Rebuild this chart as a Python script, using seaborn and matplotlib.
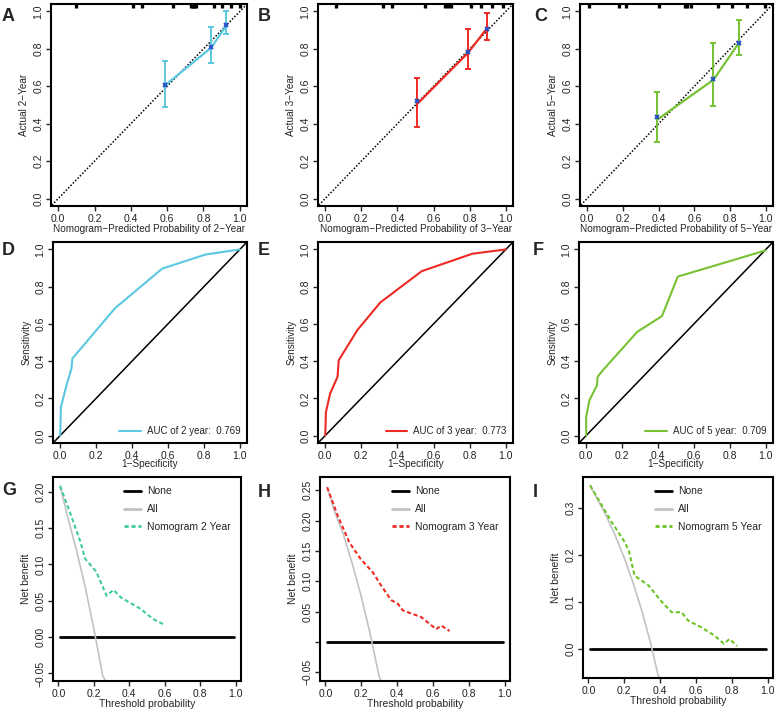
import matplotlib
matplotlib.use('Agg')
import matplotlib.pyplot as plt
from matplotlib.lines import Line2D
import seaborn as sns
import pandas as pd

# calibration curves (A-C)
cal_labels = ["2", "3", "5"]
cal_colors = ["#5BC8E0", "#EE2A24", "#76C232"]
cal_pred = [[0.586, 0.842, 0.927], [0.511, 0.792, 0.895], [0.393, 0.707, 0.850]]
cal_obs = [[0.603, 0.806, 0.926], [0.507, 0.780, 0.909], [0.422, 0.635, 0.833]]
cal_corr = [[0.607, 0.809, 0.928], [0.520, 0.783, 0.906], [0.434, 0.637, 0.833]]
cal_lo = [[0.487, 0.723, 0.882], [0.380, 0.694, 0.849], [0.300, 0.492, 0.767]]
cal_hi = [[0.735, 0.919, 1.000], [0.645, 0.906, 0.991], [0.569, 0.829, 0.955]]
rug_2y = [0.10, 0.41, 0.46, 0.63, 0.73, 0.74, 0.75, 0.76, 0.86, 0.90, 0.95, 1.0]
rug_3y = [0.06, 0.32, 0.37, 0.55, 0.665, 0.68, 0.695, 0.81, 0.865, 0.925, 0.985]
rug_5y = [0.01, 0.18, 0.22, 0.40, 0.545, 0.56, 0.58, 0.735, 0.81, 0.895, 0.995]
cal_rugs = [rug_2y, rug_3y, rug_5y]

# ROC curves (D-F)
roc_fpr_2y = [0, 0.004, 0.035, 0.063, 0.068, 0.306, 0.568, 0.81, 1]
roc_tpr_2y = [0, 0.153, 0.27, 0.36, 0.414, 0.685, 0.897, 0.973, 1]
roc_fpr_3y = [0, 0.004, 0.027, 0.068, 0.075, 0.179, 0.305, 0.534, 0.815, 1]
roc_tpr_3y = [0, 0.126, 0.225, 0.315, 0.405, 0.568, 0.715, 0.883, 0.977, 1]
roc_fpr_5y = [0, 0, 0.018, 0.06, 0.064, 0.092, 0.284, 0.422, 0.51, 1]
roc_tpr_5y = [0, 0.10, 0.19, 0.27, 0.316, 0.35, 0.557, 0.642, 0.854, 0.995]
roc_auc = ["0.769", "0.773", "0.709"]

# decision curves (G-I)
dca_all_x_2y = [0.01, 0.05, 0.10, 0.15, 0.20, 0.25, 0.27]
dca_all_y_2y = [0.208, 0.168, 0.122, 0.071, 0.012, -0.053, -0.062]
dca_nom_x_2y = [0.01, 0.071, 0.125, 0.151, 0.214, 0.272, 0.311, 0.356, 0.463, 0.534, 0.59]
dca_nom_y_2y = [0.208, 0.168, 0.131, 0.108, 0.09, 0.057, 0.065, 0.054, 0.039, 0.025, 0.018]
dca_all_x_3y = [0.01, 0.05, 0.10, 0.15, 0.20, 0.25, 0.30, 0.31]
dca_all_y_3y = [0.255, 0.216, 0.178, 0.129, 0.075, 0.013, -0.057, -0.064]
dca_nom_x_3y = [0.01, 0.069, 0.134, 0.196, 0.264, 0.311, 0.367, 0.404, 0.432, 0.534, 0.618, 0.646, 0.693]
dca_nom_y_3y = [0.255, 0.208, 0.164, 0.137, 0.115, 0.093, 0.069, 0.063, 0.052, 0.041, 0.021, 0.027, 0.018]
dca_all_x_5y = [0.01, 0.10, 0.15, 0.20, 0.25, 0.30, 0.35, 0.40]
dca_all_y_5y = [0.348, 0.283, 0.241, 0.194, 0.14, 0.079, 0.008, -0.075]
dca_nom_x_5y = [0.01, 0.13, 0.197, 0.225, 0.258, 0.336, 0.41, 0.465, 0.52, 0.557, 0.63, 0.705, 0.756, 0.788, 0.83]
dca_nom_y_5y = [0.348, 0.27, 0.231, 0.21, 0.156, 0.135, 0.10, 0.078, 0.078, 0.06, 0.046, 0.028, 0.011, 0.021, 0.006]
dca_colors = ["#3FCB9E", "#EE2A24", "#6CC427"]

sns.set_style("white")
plt.rcParams['font.family'] = ['Liberation Sans', 'DejaVu Sans']
plt.rcParams['axes.linewidth'] = 1.5

W, H = 777, 717
fig = plt.figure(figsize=(W / 100, H / 100), dpi=100)


def box(l, t, r, b):
    return fig.add_axes([l / W, 1 - b / H, (r - l) / W, (b - t) / H])


def style(ax, xticks, yticks, ylabels=None):
    ax.set_xticks(xticks)
    ax.set_yticks(yticks)
    if ylabels is not None:
        ax.set_yticklabels(ylabels)
    ax.tick_params(direction='out', length=3.5, width=1, labelsize=7.5,
                   labelcolor='#222222', pad=2, bottom=True, left=True)
    ax.tick_params(axis='y', labelrotation=90)
    for lab in ax.get_yticklabels():
        lab.set_va('center')
    for s in ax.spines.values():
        s.set_color('black')


ticks01 = [0, 0.2, 0.4, 0.6, 0.8, 1.0]
tick_txt = ["0.0", "0.2", "0.4", "0.6", "0.8", "1.0"]

row1 = [(51, 4, 247, 206), (318, 4, 513, 206), (580, 4, 773, 206)]
row2 = [(53, 242, 247, 443), (318, 242, 513, 443), (579, 242, 773, 443)]
row3 = [(53, 477, 241, 681), (320, 477, 510, 681), (583, 477, 773, 678)]

# --- calibration
for i in range(3):
    ax = box(*row1[i])
    c = cal_colors[i]
    ax.plot([-0.1, 1.1], [-0.1, 1.1], ls=(0, (1, 1.2)), color='black', lw=1.1)
    ax.errorbar(cal_pred[i], cal_obs[i],
                yerr=[[o - l for o, l in zip(cal_obs[i], cal_lo[i])],
                      [h - o for o, h in zip(cal_obs[i], cal_hi[i])]],
                fmt='none', ecolor=c, elinewidth=1.4, capsize=2.5, capthick=1.4)
    sns.lineplot(x=cal_pred[i], y=cal_obs[i], ax=ax, color=c, lw=1.6,
                 sort=False, estimator=None)
    ax.plot(cal_pred[i], cal_corr[i], 'x', color='#2A52C8', ms=3.3, mew=1.4)
    ax.vlines(cal_rugs[i], 1.016, 1.042, color='black', lw=2.4)
    ax.set_xlim(-0.04, 1.04)
    ax.set_ylim(-0.04, 1.04)
    style(ax, ticks01, ticks01)
    ax.set_xticklabels(tick_txt)
    ax.set_yticklabels(tick_txt)
    ax.set_xlabel("Nomogram\u2212Predicted Probability of %s\u2212Year" % cal_labels[i],
                  fontsize=7.2, labelpad=0)
    ax.set_ylabel("Actual %s\u2212Year" % cal_labels[i], fontsize=7.2, labelpad=3)

# --- ROC
roc_fpr = [roc_fpr_2y, roc_fpr_3y, roc_fpr_5y]
roc_tpr = [roc_tpr_2y, roc_tpr_3y, roc_tpr_5y]
for i in range(3):
    ax = box(*row2[i])
    c = cal_colors[i]
    ax.plot([-0.1, 1.1], [-0.1, 1.1], color='black', lw=1.1)
    roc_df = pd.DataFrame({'fpr': roc_fpr[i], 'tpr': roc_tpr[i]})
    sns.lineplot(data=roc_df, x='fpr', y='tpr', ax=ax, color=c, lw=1.5,
                 sort=False, estimator=None,
                 label="AUC of %s year:  %s" % (cal_labels[i], roc_auc[i]))
    ax.legend(loc='lower right', frameon=False, fontsize=7, handlelength=2.2,
              handletextpad=0.6, borderaxespad=0.3)
    ax.set_xlim(-0.04, 1.04)
    ax.set_ylim(-0.04, 1.04)
    style(ax, ticks01, ticks01)
    ax.set_xticklabels(tick_txt)
    ax.set_yticklabels(tick_txt)
    ax.set_xlabel("1\u2212Specificity", fontsize=7.2, labelpad=-1)
    ax.set_ylabel("Sensitivity", fontsize=7.2, labelpad=3)

# --- decision curves
all_x = [dca_all_x_2y, dca_all_x_3y, dca_all_x_5y]
all_y = [dca_all_y_2y, dca_all_y_3y, dca_all_y_5y]
nom_x = [dca_nom_x_2y, dca_nom_x_3y, dca_nom_x_5y]
nom_y = [dca_nom_y_2y, dca_nom_y_3y, dca_nom_y_5y]
ylims = [(-0.0604, 0.2204), (-0.0645, 0.272), (-0.062, 0.366)]
yt = [[-0.05, 0, 0.05, 0.10, 0.15, 0.20],
      [-0.05, 0, 0.05, 0.10, 0.15, 0.20, 0.25],
      [0, 0.1, 0.2, 0.3]]
ytl = [["\u22120.05", "0.00", "0.05", "0.10", "0.15", "0.20"],
       ["\u22120.05", "", "0.05", "0.10", "0.15", "0.20", "0.25"],
       ["0.0", "0.1", "0.2", "0.3"]]
for i in range(3):
    ax = box(*row3[i])
    ax.plot([0.01, 0.99], [0, 0], color='black', lw=2)
    sns.lineplot(x=all_x[i], y=all_y[i], ax=ax, color='#C2C2C2', lw=1.2,
                 sort=False, estimator=None)
    sns.lineplot(x=nom_x[i], y=nom_y[i], ax=ax, color=dca_colors[i], lw=1.5,
                 ls=(0, (2, 1.3)), sort=False, estimator=None)
    handles = [Line2D([], [], color='black', lw=2),
               Line2D([], [], color='#C2C2C2', lw=2),
               Line2D([], [], color=dca_colors[i], lw=2, ls=(0, (1.5, 1)))]
    ax.legend(handles, ["None", "All", "Nomogram %s Year" % cal_labels[i]],
              loc='upper left', bbox_to_anchor=(0.33, 1.0), frameon=False,
              fontsize=7.5, handlelength=1.6, handletextpad=0.6, labelspacing=0.75)
    ax.set_xlim(-0.03, 1.03)
    ax.set_ylim(*ylims[i])
    style(ax, ticks01, yt[i], ytl[i])
    ax.set_xticklabels(tick_txt)
    ax.set_xlabel("Threshold probability", fontsize=7.5, labelpad=0)
    ax.set_ylabel("Net benefit", fontsize=7.5, labelpad=3)

# panel letters
letters = [("A", 2, 21), ("B", 258, 21), ("C", 534, 21),
           ("D", 2, 255), ("E", 258, 255), ("F", 533, 255),
           ("G", 2, 495), ("H", 258, 497), ("I", 533, 497)]
for txt, x, y in letters:
    fig.text(x / W, 1 - y / H, txt, fontsize=13, fontweight='bold', va='baseline')

plt.savefig("out.png", dpi=100)
plt.close()
